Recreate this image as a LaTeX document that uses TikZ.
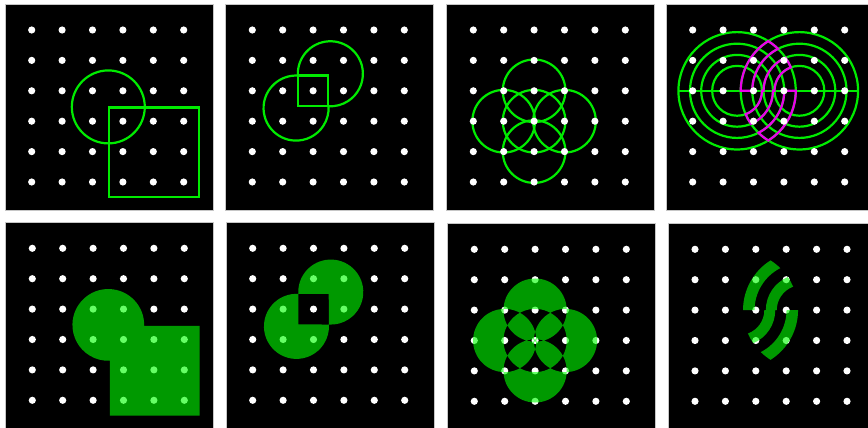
\documentclass[tikz,border=0pt]{standalone}
\definecolor{lgreen}{RGB}{0,235,0}
\definecolor{mag}{RGB}{235,0,235}
\definecolor{fgreen}{RGB}{0,255,0}
\tikzset{
  panel/.style={fill=black, draw=gray!45, line width=0.6pt},
  outl/.style={draw=lgreen, line width=2.2pt},
  magl/.style={draw=mag, line width=2.2pt},
  filled/.style={fill=fgreen, fill opacity=0.6},
  gridpanel/.style={x=30.4pt, y=-30.4pt}
}
\newcommand\dotgrid{\foreach \i in {0,...,5}{\foreach \j in {0,...,5}{\fill[white] (\i,\j) circle[radius=0.118];}}}
\newcommand\panelbox{\path[panel] (-0.872,-0.855) rectangle (5.97,5.92);}
\newcommand\bandA{(1.58,2) arc[start angle=180,end angle=237.9,radius=1.93] arc[start angle=302.1,end angle=314.3,radius=1.93] arc[start angle=243.05,end angle=180,radius=1.55] -- cycle}
\newcommand\bandB{(2.33,2) arc[start angle=180,end angle=247.26,radius=1.18] arc[start angle=325.67,end angle=336.47,radius=1.93] arc[start angle=250.0,end angle=180,radius=0.82] -- (2.64,2) arc[start angle=0,end angle=67.26,radius=1.18] arc[start angle=145.67,end angle=156.47,radius=1.93] arc[start angle=70.0,end angle=0,radius=0.82] -- cycle}
\newcommand\bandC{(3.39,2) arc[start angle=0,end angle=57.9,radius=1.93] arc[start angle=122.1,end angle=134.3,radius=1.93] arc[start angle=63.05,end angle=0,radius=1.55] -- cycle}
\begin{document}
\begin{tikzpicture}
\clip (0,0) rectangle (868pt,-428pt);
\fill[white] (0,0) rectangle (868pt,-428pt);

% ---------- top row ----------
\begin{scope}[shift={(31.7pt,-30pt)},gridpanel]
  \panelbox
  \draw[outl] (2.52,2.53) circle[radius=1.2];
  \draw[outl] (2.55,2.55) rectangle (5.5,5.5);
  \dotgrid
\end{scope}

\begin{scope}[shift={(252.3pt,-30pt)},gridpanel]
  \panelbox
  \draw[outl] (1.5,1.5) rectangle (2.5,2.5);
  \draw[outl] (1.5,1.5) arc[start angle=273.2,end angle=-3.2,radius=1.07];
  \draw[outl] (1.5,1.5) arc[start angle=176.8,end angle=453.2,radius=1.07];
  \dotgrid
\end{scope}

\begin{scope}[shift={(473.3pt,-30pt)},gridpanel]
  \panelbox
  \foreach \c in {(2,2),(1,3),(2,3),(3,3),(2,4)}{\draw[outl] \c circle[radius=1.03];}
  \dotgrid
\end{scope}

\begin{scope}[shift={(692.7pt,-30pt)},gridpanel]
  \panelbox
  \foreach \r in {0.82,1.18,1.55,1.93}{
    \draw[outl] (1.46,2) circle[radius=\r];
    \draw[outl] (3.51,2) circle[radius=\r];}
  \draw[outl] (-0.47,2) -- (5.44,2);
  \draw[magl, line join=miter] \bandA;
  \draw[magl, line join=miter] \bandB;
  \draw[magl, line join=miter] \bandC;
  \dotgrid
\end{scope}

% ---------- bottom row ----------
\begin{scope}[shift={(32.3pt,-248.3pt)},gridpanel]
  \panelbox
  \dotgrid
  \fill[filled] (3.6796,2.55) arc[start angle=1.46,end angle=-272.43,radius=1.18]
     -- (2.55,5.5) -- (5.5,5.5) -- (5.5,2.55) -- cycle;
\end{scope}

\begin{scope}[shift={(252.7pt,-248.3pt)},gridpanel]
  \panelbox
  \dotgrid
  \fill[filled] (1.5,1.5) arc[start angle=273.2,end angle=-3.2,radius=1.07] -- (1.5,2.5) -- cycle
                (1.5,1.5) arc[start angle=176.8,end angle=453.2,radius=1.07] -- (2.5,1.5) -- cycle;
\end{scope}

\begin{scope}[shift={(474.3pt,-249.3pt)},gridpanel]
  \panelbox
  \dotgrid
  \fill[filled, even odd rule] (2,2) circle[radius=1.04] (1,3) circle[radius=1.04]
     (2,3) circle[radius=1.04] (3,3) circle[radius=1.04] (2,4) circle[radius=1.04];
\end{scope}

\begin{scope}[shift={(695pt,-249.3pt)},gridpanel]
  \panelbox
  \dotgrid
  \fill[filled] \bandA \bandB \bandC;
\end{scope}
\end{tikzpicture}
\end{document}
